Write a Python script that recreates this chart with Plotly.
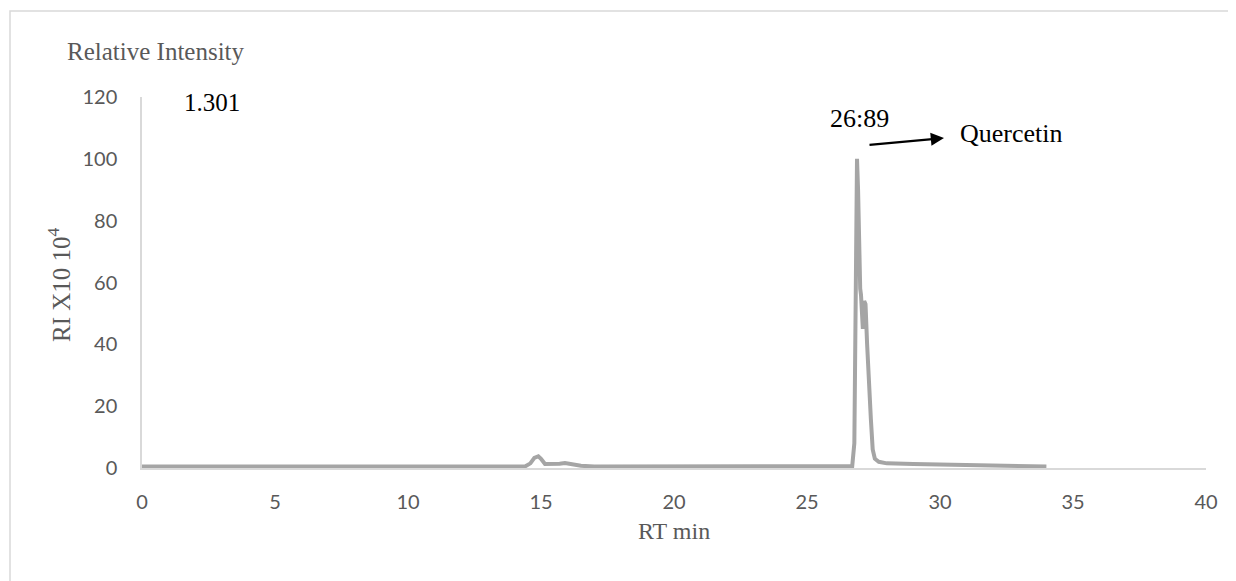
import plotly.graph_objects as go

rt_min = [0, 5, 10, 14.4, 14.6, 14.75, 14.9, 15.0, 15.15, 15.4, 15.7, 15.9, 16.1, 16.5, 17, 20, 25, 26.7,
          26.78, 26.84, 26.88, 26.92, 26.97, 27.0, 27.03, 27.06, 27.1, 27.15, 27.2, 27.26, 27.32, 27.4,
          27.47, 27.55, 27.7, 28.0, 29, 30, 31, 32, 33, 34]
intensity = [0.5, 0.5, 0.5, 0.5, 1.5, 3.3, 3.8, 3.0, 1.3, 1.2, 1.4, 1.6, 1.3, 0.7, 0.5, 0.5, 0.5, 0.6,
             8, 70, 100, 90, 60, 58, 56, 46, 45, 54, 53, 40, 28, 16,
             6, 3, 2, 1.5, 1.3, 1.2, 1.0, 0.9, 0.8, 0.5]
x_ticks = [0, 5, 10, 15, 20, 25, 30, 35, 40]
y_ticks = [0, 20, 40, 60, 80, 100, 120]

OFF = 8  # page body margin
L, R, T, B = 142 - OFF, 1206 - OFF, 97 - OFF, 468 - OFF
W, H = 1236 - OFF, 581 - OFF

def px(x):
    return (x - OFF - L) / (R - L)

def py(y):
    return (B - (y - OFF)) / (B - T)

fig = go.Figure()
fig.add_trace(go.Scatter(x=rt_min, y=intensity, mode="lines",
                         line=dict(color="#a5a5a5", width=4), showlegend=False,
                         hoverinfo="skip"))

serif = "Liberation Serif"
sans = "Lato"

fig.update_layout(
    width=W, height=H,
    margin=dict(l=L, r=W - R, t=T, b=H - B),
    paper_bgcolor="white", plot_bgcolor="white",
    xaxis=dict(range=[0, 40], tickvals=x_ticks, showgrid=False, zeroline=False,
               showline=True, linecolor="#d9d9d9", linewidth=1.5, ticks="",
               tickfont=dict(family=sans, size=20, color="#595959"),
               ticklabelstandoff=15),
    yaxis=dict(range=[0, 120], tickvals=y_ticks, showgrid=False, zeroline=False,
               showline=True, linecolor="#d9d9d9", linewidth=1.5, ticks="",
               tickfont=dict(family=sans, size=20, color="#595959"),
               ticklabelstandoff=19),
    shapes=[dict(type="rect", xref="paper", yref="paper",
                 x0=px(10), x1=px(1250), y0=py(600), y1=py(11),
                 line=dict(color="#d9d9d9", width=1.5), fillcolor="rgba(0,0,0,0)",
                 layer="below")],
)

ann = [
    dict(text="Relative Intensity", x=px(156), y=py(51), font=dict(family=serif, size=25, color="#595959")),
    dict(text="1.301", x=px(212), y=py(102), font=dict(family=serif, size=25, color="black")),
    dict(text="26:89", x=px(859), y=py(118), font=dict(family=serif, size=26, color="black")),
    dict(text="Quercetin", x=px(1011), y=py(134), font=dict(family=serif, size=26, color="black")),
    dict(text="RT min", x=px(674), y=py(531), font=dict(family=serif, size=24, color="#595959")),
    dict(text="RI X10 10<sup>4</sup>", x=px(59), y=py(285), textangle=-90,
         font=dict(family=serif, size=25, color="#595959")),
]
for a in ann:
    fig.add_annotation(xref="paper", yref="paper", showarrow=False,
                       xanchor="center", yanchor="middle", **a)

fig.add_annotation(xref="paper", yref="paper", x=px(944), y=py(138),
                   ax=-76, ay=7, showarrow=True, arrowhead=2, arrowsize=1.2,
                   arrowwidth=2.2, arrowcolor="black", text="")

fig.write_html("out.html")
